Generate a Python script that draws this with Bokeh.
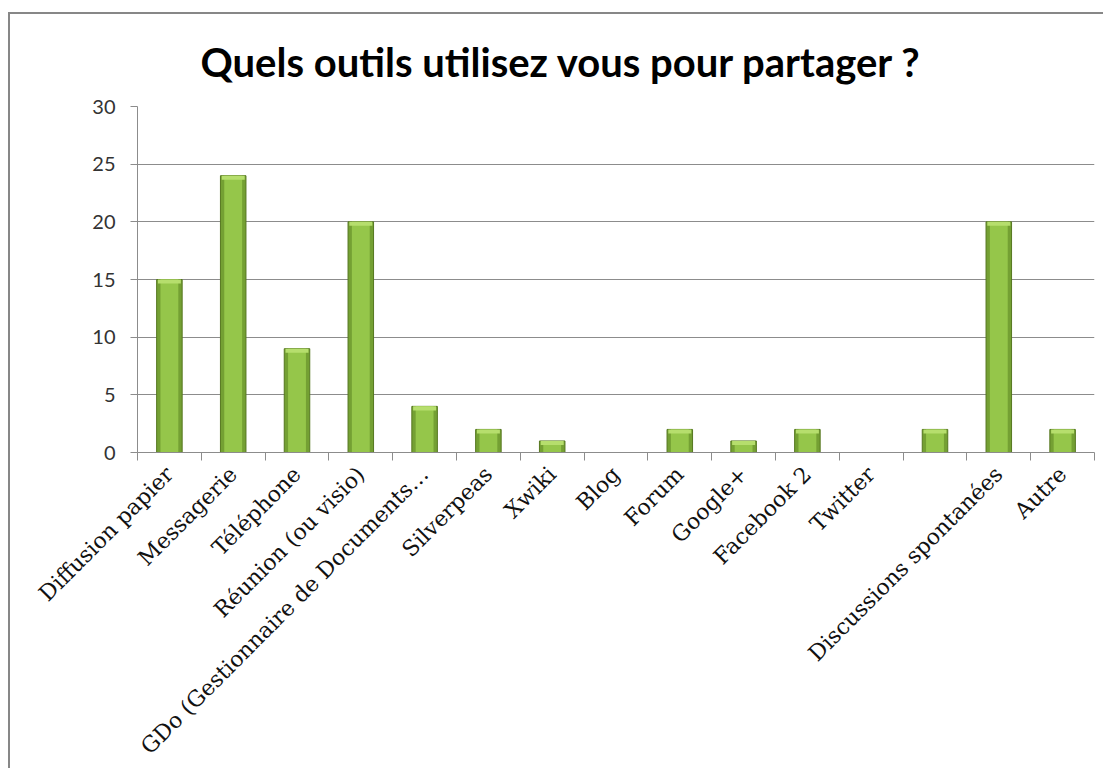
import numpy as np
from bokeh.plotting import figure
from bokeh.models import Range1d, FixedTicker, LinearAxis, Grid, ColumnDataSource, InlineStyleSheet
from bokeh.transform import dodge
from bokeh.embed import file_html
from bokeh.resources import INLINE

title_text = "Quels outils utilisez vous pour partager ?"
categories = ["Diffusion papier", "Messagerie", "Téléphone", "Réunion (ou visio)",
              "GDo (Gestionnaire de Documents…", "Silverpeas", "Xwiki", "Blog", "Forum",
              "Google+", "Facebook 2", "Twitter", "", "Discussions spontanées", "Autre"]
values = [15, 24, 9, 20, 4, 2, 1, 0, 2, 1, 2, 0, 2, 20, 2]
y_ticks = [0, 5, 10, 15, 20, 25, 30]

n = len(categories)
xs = [i + 0.5 for i in range(n)]
shown = [1.0 if v > 0 else 0.0 for v in values]
src = ColumnDataSource(dict(x=xs, top=values, la=shown))

W, H = 1095, 756
p = figure(width=W, height=H, x_range=Range1d(0, n), y_range=Range1d(0, 30),
           output_backend="svg", toolbar_location=None,
           x_axis_type=None, y_axis_type=None,
           min_border_left=127, min_border_right=11, min_border_top=60, min_border_bottom=318,
           title=title_text)
p.title.align = "left"
p.title.offset = 63
p.title.text_font = "Lato"
p.title.text_font_size = "40px"
p.title.text_font_style = "bold"
p.title.text_color = "#000000"
p.title.standoff = 42
p.outline_line_color = None
p.background_fill_color = "white"
p.border_fill_color = "white"
p.styles = {"margin-left": "10px", "margin-top": "14px"}
# chart-area frame: gray line along the left and top edges of the host only
p.stylesheets = [InlineStyleSheet(css=":host { box-shadow: -2px -2px 0px 0px #878787; }")]

grid_color = "#8c8c8c"
p.add_layout(Grid(dimension=1, ticker=FixedTicker(ticks=y_ticks),
                  grid_line_color=grid_color, grid_line_width=1))

yax = LinearAxis(ticker=FixedTicker(ticks=y_ticks))
yax.major_tick_out = 7
yax.major_tick_in = 0
yax.minor_tick_line_color = None
yax.axis_line_color = grid_color
yax.major_tick_line_color = grid_color
yax.major_label_text_font = "Lato"
yax.major_label_text_font_size = "20px"
yax.major_label_text_color = "#333333"
yax.major_label_standoff = 15
p.add_layout(yax, "left")

tick_ax = LinearAxis(ticker=FixedTicker(ticks=list(range(n + 1))))
tick_ax.major_tick_out = 8
tick_ax.major_tick_in = 0
tick_ax.minor_tick_line_color = None
tick_ax.axis_line_color = grid_color
tick_ax.major_tick_line_color = grid_color
tick_ax.major_label_text_font_size = "0px"
tick_ax.major_label_standoff = 0
p.add_layout(tick_ax, "below")

lab_ax = LinearAxis(ticker=FixedTicker(ticks=xs))
lab_ax.major_label_overrides = {x: (c if c else " ") for x, c in zip(xs, categories)}
lab_ax.major_label_orientation = np.pi / 4
lab_ax.major_tick_out = 0
lab_ax.major_tick_in = 0
lab_ax.minor_tick_line_color = None
lab_ax.axis_line_color = None
lab_ax.major_tick_line_color = None
lab_ax.major_label_text_font = "DejaVu Serif"
lab_ax.major_label_text_font_size = "22px"
lab_ax.major_label_text_color = "#111111"
lab_ax.major_label_standoff = 10
p.add_layout(lab_ax, "below")

# bevelled bars: darker body, lighter centre, light top cap
p.vbar(x="x", top="top", bottom=0, width=0.4, source=src,
       fill_color="#74a033", line_color="#55771f", line_width=1, line_alpha="la")
p.vbar(x="x", top="top", bottom=0, width=0.28, source=src,
       fill_color="#95c64a", line_color=None, fill_alpha="la")
p.vbar(x="x", top="top", bottom=dodge("top", -0.35), width=0.36, source=src,
       fill_color="#b6de6d", line_color=None, fill_alpha="la")

open("out.html", "w").write(file_html(p, INLINE))
